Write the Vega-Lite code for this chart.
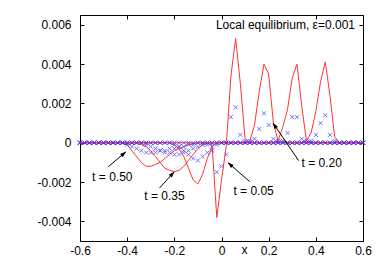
{
"$schema":"https://vega.github.io/schema/vega-lite/v6.json",
"width":283,"height":226,
"autosize":{"type":"none"},
"padding":{"left":80,"top":15,"right":19,"bottom":26},
"config":{"view":{"stroke":"#000","strokeWidth":1},"font":"Liberation Sans",
 "axis":{"labelFont":"Liberation Sans","labelFontSize":12,"labelColor":"#000","tickColor":"#000","tickSize":-4,"domain":false,"grid":false,"labelFlush":false,"labelOverlap":false,"titleFont":"Liberation Sans","titleFontSize":12,"titleFontWeight":"normal","titleColor":"#000"},
 "text":{"font":"Liberation Sans","fontSize":12}},
"datasets":{
"prof":[
{"x":-0.6,"a05":0,"a20":0,"a35":0,"a50":0,"b05":0,"b20":0,"b35":0,"b50":0},
{"x":-0.58,"a05":0,"a20":0,"a35":0,"a50":0,"b05":0,"b20":0,"b35":0,"b50":0},
{"x":-0.56,"a05":0,"a20":0,"a35":0,"a50":0,"b05":0,"b20":0,"b35":0,"b50":0},
{"x":-0.54,"a05":0,"a20":0,"a35":0,"a50":0,"b05":0,"b20":0,"b35":0,"b50":0},
{"x":-0.52,"a05":0,"a20":0,"a35":0,"a50":0,"b05":0,"b20":0,"b35":0,"b50":0},
{"x":-0.5,"a05":0,"a20":0,"a35":0,"a50":0,"b05":0,"b20":0,"b35":0,"b50":0},
{"x":-0.48,"a05":0,"a20":0,"a35":0,"a50":0,"b05":0,"b20":0,"b35":0,"b50":0},
{"x":-0.46,"a05":0,"a20":0,"a35":0,"a50":0,"b05":0,"b20":0,"b35":0,"b50":0},
{"x":-0.44,"a05":0,"a20":0,"a35":0,"a50":0,"b05":0,"b20":0,"b35":0,"b50":0},
{"x":-0.42,"a05":0,"a20":0,"a35":0,"a50":0,"b05":0,"b20":0,"b35":0,"b50":0},
{"x":-0.4,"a05":0,"a20":0,"a35":0,"a50":-0.0001,"b05":0,"b20":0,"b35":0,"b50":-0.0001},
{"x":-0.38,"a05":0,"a20":0,"a35":0,"a50":-0.0004,"b05":0,"b20":0,"b35":0,"b50":-0.0002},
{"x":-0.36,"a05":0,"a20":0,"a35":0,"a50":-0.0007,"b05":0,"b20":0,"b35":0,"b50":-0.0003},
{"x":-0.34,"a05":0,"a20":0,"a35":-0.0001,"a50":-0.001,"b05":0,"b20":0,"b35":0,"b50":-0.0004},
{"x":-0.32,"a05":0,"a20":0,"a35":-0.0002,"a50":-0.0012,"b05":0,"b20":0,"b35":-0.0001,"b50":-0.0005},
{"x":-0.3,"a05":0,"a20":0,"a35":-0.0004,"a50":-0.0012,"b05":0,"b20":0,"b35":-0.0002,"b50":-0.0005},
{"x":-0.28,"a05":0,"a20":0,"a35":-0.0007,"a50":-0.0011,"b05":0,"b20":0,"b35":-0.0003,"b50":-0.0005},
{"x":-0.26,"a05":0,"a20":0,"a35":-0.001,"a50":-0.001,"b05":0,"b20":0,"b35":-0.0004,"b50":-0.0004},
{"x":-0.24,"a05":0,"a20":0,"a35":-0.0013,"a50":-0.0008,"b05":0,"b20":0,"b35":-0.0005,"b50":-0.0004},
{"x":-0.22,"a05":0,"a20":0,"a35":-0.0014,"a50":-0.0006,"b05":0,"b20":0,"b35":-0.0005,"b50":-0.0003},
{"x":-0.2,"a05":0,"a20":-0.0001,"a35":-0.00147,"a50":-0.0004,"b05":0,"b20":-0.0001,"b35":-0.0006,"b50":-0.0003},
{"x":-0.18,"a05":0,"a20":-0.0003,"a35":-0.0014,"a50":-0.0003,"b05":0,"b20":-0.0002,"b35":-0.0006,"b50":-0.0002},
{"x":-0.16,"a05":0,"a20":-0.0007,"a35":-0.0012,"a50":-0.0002,"b05":0,"b20":-0.0004,"b35":-0.0005,"b50":-0.0002},
{"x":-0.14,"a05":0,"a20":-0.0013,"a35":-0.0009,"a50":-0.0001,"b05":0,"b20":-0.0006,"b35":-0.0004,"b50":-0.0001},
{"x":-0.12,"a05":0,"a20":-0.0019,"a35":-0.0006,"a50":-0.00005,"b05":0,"b20":-0.0008,"b35":-0.0003,"b50":-0.0001},
{"x":-0.1,"a05":0,"a20":-0.0021,"a35":-0.0003,"a50":0,"b05":0,"b20":-0.0009,"b35":-0.0002,"b50":0},
{"x":-0.08,"a05":0,"a20":-0.0016,"a35":-0.0001,"a50":0,"b05":0,"b20":-0.0007,"b35":-0.0001,"b50":0},
{"x":-0.06,"a05":0,"a20":-0.0008,"a35":0,"a50":0,"b05":-0.0001,"b20":-0.0005,"b35":0,"b50":0},
{"x":-0.04,"a05":-0.0001,"a20":-0.0002,"a35":0,"a50":0,"b05":-0.0004,"b20":-0.0002,"b35":0,"b50":0},
{"x":-0.02,"a05":-0.0038,"a20":0,"a35":0,"a50":0,"b05":-0.0015,"b20":-0.0001,"b35":0,"b50":0},
{"x":0,"a05":-0.0019,"a20":0,"a35":0,"a50":0,"b05":-0.0012,"b20":0,"b35":0,"b50":0},
{"x":0.02,"a05":-0.0002,"a20":0,"a35":0,"a50":0,"b05":-0.0006,"b20":0,"b35":0,"b50":0},
{"x":0.04,"a05":0.0034,"a20":0,"a35":0,"a50":0,"b05":0.0013,"b20":0,"b35":0,"b50":0},
{"x":0.06,"a05":0.0053,"a20":0,"a35":0,"a50":0,"b05":0.0018,"b20":0,"b35":0,"b50":0},
{"x":0.08,"a05":0.003,"a20":0,"a35":0,"a50":0,"b05":0.0004,"b20":0,"b35":0,"b50":0},
{"x":0.1,"a05":0.0002,"a20":0,"a35":0,"a50":0,"b05":0.0001,"b20":0,"b35":0,"b50":0},
{"x":0.12,"a05":0,"a20":0.0001,"a35":0,"a50":0,"b05":0,"b20":0.0001,"b35":0,"b50":0},
{"x":0.14,"a05":0,"a20":0.0009,"a35":0,"a50":0,"b05":0,"b20":0.0002,"b35":0,"b50":0},
{"x":0.16,"a05":0,"a20":0.0026,"a35":0,"a50":0,"b05":0,"b20":0.0007,"b35":0,"b50":0},
{"x":0.18,"a05":0,"a20":0.004,"a35":0,"a50":0,"b05":0,"b20":0.0015,"b35":0,"b50":0},
{"x":0.2,"a05":0,"a20":0.0035,"a35":0,"a50":0,"b05":0,"b20":0.0009,"b35":0,"b50":0},
{"x":0.22,"a05":0,"a20":0.001,"a35":0,"a50":0,"b05":0,"b20":0.0002,"b35":0,"b50":0},
{"x":0.24,"a05":0,"a20":0.0001,"a35":0.0001,"a50":0,"b05":0,"b20":0.0001,"b35":0,"b50":0},
{"x":0.26,"a05":0,"a20":0,"a35":0.0008,"a50":0,"b05":0,"b20":0,"b35":0.0001,"b50":0},
{"x":0.28,"a05":0,"a20":0,"a35":0.0017,"a50":0,"b05":0,"b20":0,"b35":0.0005,"b50":0},
{"x":0.3,"a05":0,"a20":0,"a35":0.0033,"a50":0,"b05":0,"b20":0,"b35":0.0013,"b50":0},
{"x":0.32,"a05":0,"a20":0,"a35":0.004,"a50":0,"b05":0,"b20":0,"b35":0.0013,"b50":0},
{"x":0.34,"a05":0,"a20":0,"a35":0.0019,"a50":0,"b05":0,"b20":0,"b35":0.0002,"b50":0},
{"x":0.36,"a05":0,"a20":0,"a35":0.0001,"a50":0.0001,"b05":0,"b20":0,"b35":0.0001,"b50":0},
{"x":0.38,"a05":0,"a20":0,"a35":0,"a50":0.0005,"b05":0,"b20":0,"b35":0,"b50":0.0001},
{"x":0.4,"a05":0,"a20":0,"a35":0,"a50":0.0016,"b05":0,"b20":0,"b35":0,"b50":0.0004},
{"x":0.42,"a05":0,"a20":0,"a35":0,"a50":0.0031,"b05":0,"b20":0,"b35":0,"b50":0.001},
{"x":0.44,"a05":0,"a20":0,"a35":0,"a50":0.0041,"b05":0,"b20":0,"b35":0,"b50":0.0014},
{"x":0.46,"a05":0,"a20":0,"a35":0,"a50":0.0024,"b05":0,"b20":0,"b35":0,"b50":0.0004},
{"x":0.48,"a05":0,"a20":0,"a35":0,"a50":0.0003,"b05":0,"b20":0,"b35":0,"b50":0.0001},
{"x":0.5,"a05":0,"a20":0,"a35":0,"a50":0,"b05":0,"b20":0,"b35":0,"b50":0},
{"x":0.52,"a05":0,"a20":0,"a35":0,"a50":0,"b05":0,"b20":0,"b35":0,"b50":0},
{"x":0.54,"a05":0,"a20":0,"a35":0,"a50":0,"b05":0,"b20":0,"b35":0,"b50":0},
{"x":0.56,"a05":0,"a20":0,"a35":0,"a50":0,"b05":0,"b20":0,"b35":0,"b50":0},
{"x":0.58,"a05":0,"a20":0,"a35":0,"a50":0,"b05":0,"b20":0,"b35":0,"b50":0},
{"x":0.6,"a05":0,"a20":0,"a35":0,"a50":0,"b05":0,"b20":0,"b35":0,"b50":0}
],
"arrows":[
{"label":"t = 0.50","x1":-0.48,"y1":-0.00122,"x2":-0.405,"y2":-0.00046,"lx":-0.463,"ly":-0.00174},
{"label":"t = 0.35","x1":-0.263,"y1":-0.00231,"x2":-0.2,"y2":-0.00147,"lx":-0.242,"ly":-0.00273},
{"label":"t = 0.05","x1":0.119,"y1":-0.00197,"x2":0.027,"y2":-0.00101,"lx":0.136,"ly":-0.00248},
{"label":"t = 0.20","x1":0.327,"y1":-0.00091,"x2":0.218,"y2":0.00101,"lx":0.425,"ly":-0.00101}
]},
"resolve":{"axis":{"x":"independent","y":"independent"}},
"layer":[
{"data":{"name":"prof"},"transform":[{"fold":["a05","a20","a35","a50"],"as":["s","v"]}],
 "mark":{"type":"line","color":"#ff3333","strokeWidth":1},
 "encoding":{
  "x":{"field":"x","type":"quantitative","scale":{"domain":[-0.6,0.6],"nice":false,"zero":false},
   "axis":{"orient":"bottom","values":[-0.6,-0.4,-0.2,0,0.2,0.4,0.6],"labelPadding":8,
    "labelExpr":"datum.value == 0 ? '0' : (datum.value < 0 ? '-' : '') + format(abs(datum.value), '.1f')",
    "title":"x","titleX":164,"titleY":12,"titleBaseline":"alphabetic","titleAnchor":"start","titleAlign":"center"}},
  "y":{"field":"v","type":"quantitative","scale":{"domain":[-0.005,0.0065],"nice":false,"zero":false},
   "axis":{"orient":"left","values":[-0.004,-0.002,0,0.002,0.004,0.006],"labelPadding":13,
    "labelExpr":"datum.value == 0 ? '0' : (datum.value < 0 ? '-' : '') + format(abs(datum.value), '.3f')","title":null}},
  "detail":{"field":"s"}}},
{"data":{"name":"prof"},"transform":[{"fold":["a05","a20","a35","a50"],"as":["s","v"]}],
 "mark":{"type":"line","opacity":0},
 "encoding":{
  "x":{"field":"x","type":"quantitative","scale":{"domain":[-0.6,0.6],"nice":false,"zero":false},
   "axis":{"orient":"top","values":[-0.6,-0.4,-0.2,0,0.2,0.4,0.6],"labels":false,"title":null}},
  "y":{"field":"v","type":"quantitative","scale":{"domain":[-0.005,0.0065],"nice":false,"zero":false},
   "axis":{"orient":"right","values":[-0.004,-0.002,0,0.002,0.004,0.006],"labels":false,"title":null}},
  "detail":{"field":"s"}}},
{"data":{"name":"prof"},"transform":[{"fold":["b05","b20","b35","b50"],"as":["s","v"]}],
 "mark":{"type":"point","shape":"M-1,-1L1,1M-1,1L1,-1","filled":false,"color":"#3535ff","size":16,"strokeWidth":1},
 "encoding":{
  "x":{"field":"x","type":"quantitative","scale":{"domain":[-0.6,0.6],"nice":false,"zero":false},"axis":null},
  "y":{"field":"v","type":"quantitative","scale":{"domain":[-0.005,0.0065],"nice":false,"zero":false},"axis":null}}},
{"data":{"name":"arrows"},
 "mark":{"type":"rule","color":"#000","strokeWidth":1},
 "encoding":{
  "x":{"field":"x1","type":"quantitative","scale":{"domain":[-0.6,0.6],"nice":false,"zero":false},"axis":null},
  "y":{"field":"y1","type":"quantitative","scale":{"domain":[-0.005,0.0065],"nice":false,"zero":false},"axis":null},
  "x2":{"field":"x2"},"y2":{"field":"y2"}}},
{"data":{"name":"arrows"},"transform":[{"filter":"datum.label == 't = 0.50'"}],
 "mark":{"type":"point","shape":"M0,0L-0.35,1L0.35,1Z","filled":true,"color":"#000","size":144,"angle":49.7,"opacity":1},
 "encoding":{
  "x":{"field":"x2","type":"quantitative","scale":{"domain":[-0.6,0.6],"nice":false,"zero":false},"axis":null},
  "y":{"field":"y2","type":"quantitative","scale":{"domain":[-0.005,0.0065],"nice":false,"zero":false},"axis":null}}},
{"data":{"name":"arrows"},"transform":[{"filter":"datum.label == 't = 0.35'"}],
 "mark":{"type":"point","shape":"M0,0L-0.35,1L0.35,1Z","filled":true,"color":"#000","size":144,"angle":42.1,"opacity":1},
 "encoding":{
  "x":{"field":"x2","type":"quantitative","scale":{"domain":[-0.6,0.6],"nice":false,"zero":false},"axis":null},
  "y":{"field":"y2","type":"quantitative","scale":{"domain":[-0.005,0.0065],"nice":false,"zero":false},"axis":null}}},
{"data":{"name":"arrows"},"transform":[{"filter":"datum.label == 't = 0.05'"}],
 "mark":{"type":"point","shape":"M0,0L-0.35,1L0.35,1Z","filled":true,"color":"#000","size":144,"angle":-48.8,"opacity":1},
 "encoding":{
  "x":{"field":"x2","type":"quantitative","scale":{"domain":[-0.6,0.6],"nice":false,"zero":false},"axis":null},
  "y":{"field":"y2","type":"quantitative","scale":{"domain":[-0.005,0.0065],"nice":false,"zero":false},"axis":null}}},
{"data":{"name":"arrows"},"transform":[{"filter":"datum.label == 't = 0.20'"}],
 "mark":{"type":"point","shape":"M0,0L-0.35,1L0.35,1Z","filled":true,"color":"#000","size":144,"angle":-34.1,"opacity":1},
 "encoding":{
  "x":{"field":"x2","type":"quantitative","scale":{"domain":[-0.6,0.6],"nice":false,"zero":false},"axis":null},
  "y":{"field":"y2","type":"quantitative","scale":{"domain":[-0.005,0.0065],"nice":false,"zero":false},"axis":null}}},
{"data":{"name":"arrows"},
 "mark":{"type":"text","align":"center","baseline":"middle","fontSize":12,"color":"#000"},
 "encoding":{
  "x":{"field":"lx","type":"quantitative","scale":{"domain":[-0.6,0.6],"nice":false,"zero":false},"axis":null},
  "y":{"field":"ly","type":"quantitative","scale":{"domain":[-0.005,0.0065],"nice":false,"zero":false},"axis":null},
  "text":{"field":"label"}}},
{"data":{"values":[{"txt":"Local equilibrium, ε=0.001"}]},
 "mark":{"type":"text","align":"right","baseline":"middle","fontSize":12,"color":"#000","dx":-8},
 "encoding":{
  "x":{"datum":0.6,"type":"quantitative","scale":{"domain":[-0.6,0.6],"nice":false,"zero":false},"axis":null},
  "y":{"datum":0.006,"type":"quantitative","scale":{"domain":[-0.005,0.0065],"nice":false,"zero":false},"axis":null},
  "text":{"field":"txt"}}}
]
}
